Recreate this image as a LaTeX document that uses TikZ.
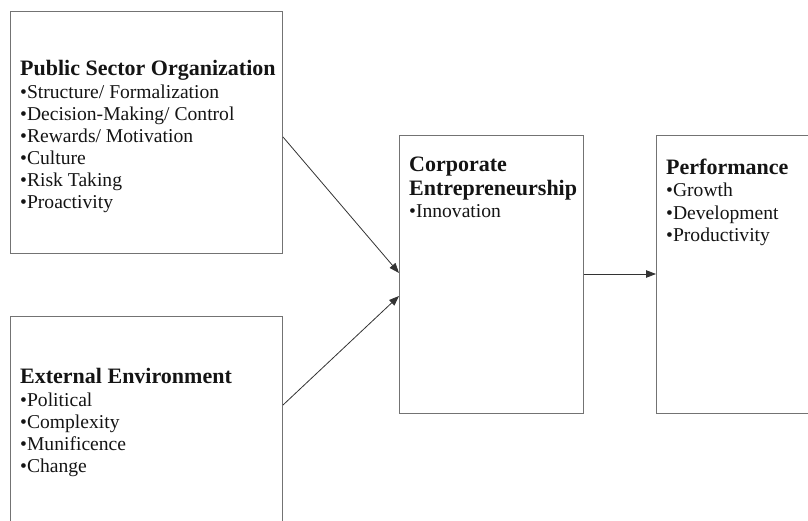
\documentclass[tikz,border=0pt]{standalone}
\usepackage{fontspec}
\setmainfont{Liberation Serif}
\usetikzlibrary{arrows.meta}
\tikzset{
  boxshape/.style={draw=black!55, line width=1pt, rectangle, inner sep=0pt, anchor=north west},
  ttl/.style={anchor=base west, inner sep=0pt, text=black!92, font=\bfseries\fontsize{22}{24}\selectfont},
  itm/.style={anchor=base west, inner sep=0pt, text=black!92, font=\fontsize{19.6}{22}\selectfont},
  conn/.style={draw=black!80, line width=0.8pt, -{Triangle[length=10pt,width=7.5pt]}}
}
\begin{document}
\begin{tikzpicture}[x=1pt,y=-1pt]
\useasboundingbox (0,0) rectangle (808,521);
\clip (0,0) rectangle (808,521);
% boxes
\node[boxshape, minimum width=272pt, minimum height=242.5pt] (pso) at (10,11) {};
\node[boxshape, minimum width=272pt, minimum height=240pt] (ext) at (10,316) {};
\node[boxshape, minimum width=184pt, minimum height=278pt] (ce) at (399,135) {};
\node[boxshape, minimum width=180pt, minimum height=278pt] (perf) at (656,135) {};
% box 1 text
\node[ttl] (psoT) at (20,76) {Public Sector Organization};
\node[itm] (pso1) at (20,99) {•Structure/ Formalization};
\node[itm] (pso2) at (20,121) {•Decision-Making/ Control};
\node[itm] (pso3) at (20,143) {•Rewards/ Motivation};
\node[itm] (pso4) at (20,165) {•Culture};
\node[itm] (pso5) at (20,187) {•Risk Taking};
\node[itm] (pso6) at (20,209) {•Proactivity};
% box 2 text
\node[ttl] (extT) at (20,383) {External Environment};
\node[itm] (ext1) at (20,406) {•Political};
\node[itm] (ext2) at (20,428) {•Complexity};
\node[itm] (ext3) at (20,450) {•Munificence};
\node[itm] (ext4) at (20,472) {•Change};
% box 3 text
\node[ttl] (ceT1) at (409,172) {Corporate};
\node[ttl] (ceT2) at (409,196) {Entrepreneurship};
\node[itm] (ce1) at (409,218) {•Innovation};
% box 4 text
\node[ttl] (perfT) at (666,175) {Performance};
\node[itm] (perf1) at (666,197) {•Growth};
\node[itm] (perf2) at (666,220) {•Development};
\node[itm] (perf3) at (666,242) {•Productivity};
% connectors
\draw[conn] (pso.east |- 0,137) -- (ce.west |- 0,273);
\draw[conn] (ext.east |- 0,405) -- (ce.west |- 0,296);
\draw[conn] (ce.east |- 0,274) -- (perf.west |- 0,274);
\end{tikzpicture}
\end{document}
